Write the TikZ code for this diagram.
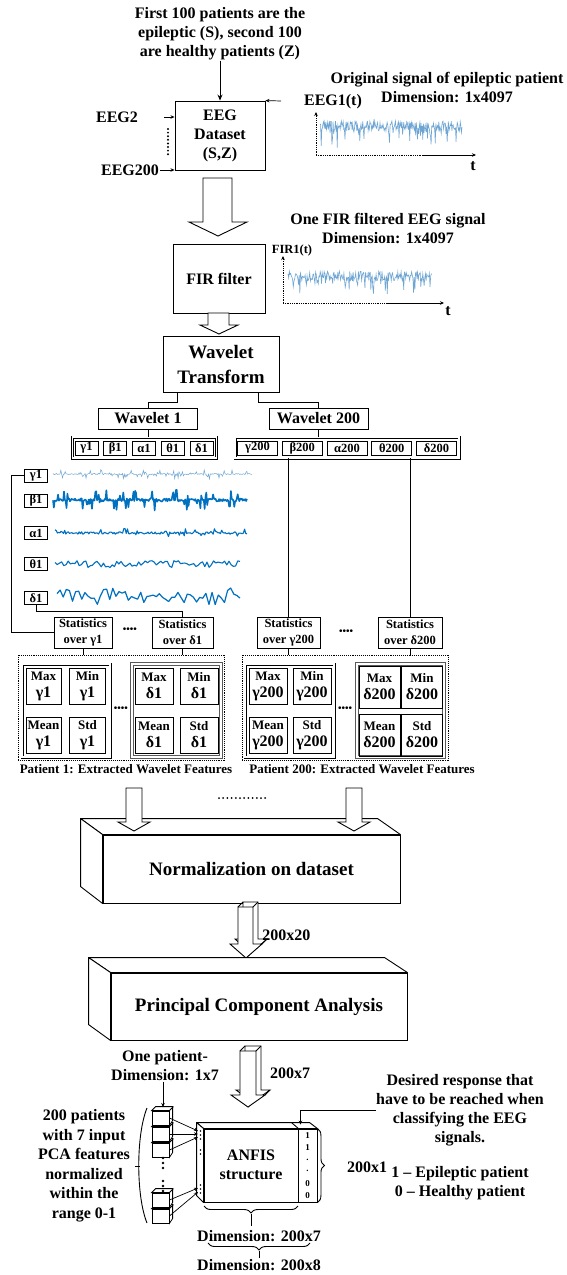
\documentclass[tikz,border=0pt]{standalone}
\usepackage{fontspec}
\setmainfont{Liberation Serif}
\usetikzlibrary{positioning,arrows.meta,decorations.pathreplacing}

\definecolor{sigblue}{RGB}{0,112,192}
\definecolor{siglight}{RGB}{110,165,210}

\newcommand{\ftxt}[2]{{\fontsize{13}{17}\selectfont #1}\\{\fontsize{16}{17}\selectfont #2}}

\begin{document}
\begin{tikzpicture}[x=1pt,y=-1pt,line width=0.9pt,
    txt/.style={font=\bfseries\fontsize{16}{19}\selectfont,align=center,inner sep=0pt},
    bigtxt/.style={font=\bfseries\fontsize{19}{25}\selectfont,align=center,inner sep=0pt},
    smalltxt/.style={font=\bfseries\fontsize{12.5}{16}\selectfont,align=center,inner sep=0pt},
    blk/.style={draw,fill=white,inner sep=0pt,align=center},
    band/.style={draw,line width=0.8pt,inner sep=0pt,font=\bfseries\fontsize{12.5}{14}\selectfont},
    dbl/.style={draw,double,double distance=1.6pt,line width=0.7pt,inner sep=0pt},
    dblgray/.style={dbl,draw=black!65,line width=1pt},
    feat/.style={draw,inner sep=0pt,align=center,font=\bfseries\fontsize{14}{17}\selectfont,minimum width=36,minimum height=36},
    dotbox/.style={draw,densely dotted,inner sep=0pt},
    arr/.style={-{Stealth[length=6pt,width=5pt]}},
    sarr/.style={-{Stealth[length=4pt,width=3.5pt]},line width=0.7pt},
    hollow/.style={draw,fill=white,line join=miter},
    face/.style={draw,fill=white,line join=round},
    sig/.style={line width=0.6pt,line join=round,color=sigblue},
  ]
\useasboundingbox (0,0) rectangle (567,1275);

% --- dataset
\node[txt] (intro) at (220,34) {First 100 patients are the\\epileptic (S), second 100\\are healthy patients (Z)};
\node[blk,txt,minimum width=90,minimum height=69] (eeg) at (220,135.5) {EEG\\Dataset\\(S,Z)};
\node[txt] (eeg2) at (117,117) {EEG2};
\node[txt] (eeg200) at (130,170) {EEG200};
\coordinate (e2) at (164,117);
\coordinate (e200) at (160,170);
\draw[arr] (intro.south) -- (eeg.north);
\draw[sarr] (e2) -- (eeg.west |- e2);
\draw[sarr] (e200) -- (eeg.west |- e200);
\draw[line width=2.2pt,dash pattern=on 0pt off 3.6pt,line cap=round] (168,129) -- (168,157);

% --- original signal
\node[txt] (origtxt) at (447,87.5) {Original signal of epileptic patient\\Dimension: 1x4097};
\node[txt] (eeg1t) at (333,102) {EEG1(t)};
\coordinate (src) at (281,101);
\draw[sarr] (src) -- (eeg.north east);
\coordinate (o1) at (316,155);
\draw[densely dotted,line width=0.8pt,-{Stealth[length=4pt,width=3.5pt]}] (o1) -- (316,112);
\draw[densely dotted,line width=0.8pt] (o1) -- (423,155);
\draw[sarr] (423,155) -- (476,155);
\node[txt] (t1) at (473,166) {t};
\pgfmathsetseed{11}
\draw[line width=0.6pt,color=siglight] plot[domain=320:462,samples=240] (\x,{126+5*rand+18*(rnd>0.8)*rnd});

% --- FIR filter
\draw[hollow] (203,178) -- (232,178) -- (232,222) -- (247,222) -- (218,236) -- (189,222) -- (203,222) -- cycle;
\node[blk,txt,minimum width=92,minimum height=69] (fir) at (219,278.5) {FIR filter};
\node[txt] (firtxt) at (388,228.5) {One FIR filtered EEG signal\\Dimension: 1x4097};
\node[smalltxt] (fir1t) at (292,250) {FIR1(t)};
\coordinate (o2) at (283,303);
\draw[densely dotted,line width=0.8pt,-{Stealth[length=4pt,width=3.5pt]}] (o2) -- (283,256);
\draw[densely dotted,line width=0.8pt] (o2) -- (388,303);
\draw[sarr] (388,303) -- (444,303);
\node[txt] (t2) at (448,311) {t};
\pgfmathsetseed{23}
\draw[line width=0.6pt,color=siglight] plot[domain=288:432,samples=220] (\x,{276+5*rand+16*(rnd>0.8)*rnd});

% --- wavelet transform
\draw[hollow] (208,313) -- (229,313) -- (229,325) -- (238,325) -- (219,334) -- (200,325) -- (208,325) -- cycle;
\node[blk,bigtxt,minimum width=116,minimum height=56] (wt) at (221,364) {Wavelet\\Transform};
\node[blk,txt,minimum width=99,minimum height=21] (w1) at (148,418.5) {Wavelet 1};
\node[blk,txt,minimum width=99,minimum height=21] (w200) at (318.5,418.5) {Wavelet 200};
\draw ([xshift=15pt]wt.south west) |- ([yshift=5pt]w1.north) -- (w1.north);
\draw ([xshift=-21pt]wt.south east) |- ([yshift=5pt]w200.north) -- (w200.north);

\node[dbl,minimum width=144,minimum height=21] (bd1) at (144.5,447.5) {};
\foreach \n/\s [count=\i from 0] in {g1/γ1,b1/β1,a1/α1,h1/θ1,d1/δ1}
  \node[band,minimum width=23,minimum height=14] (\n) at ({86.5+28.75*\i},448) {\s};
\node[dbl,minimum width=224,minimum height=21] (bd200) at (347,447.5) {};
\foreach \n/\s [count=\i from 0] in {g200/γ200,b200/β200,a200/α200,h200/θ200,d200/δ200}
  \node[band,minimum width=40,minimum height=14] (\n) at ({257.5+44.75*\i},448) {\s};
\draw (w1.south) -- (w1.south |- bd1.north);
\draw (w200.south) -- (w200.south |- bd200.north);

% --- sub-band signals of patient 1
\node[band,minimum width=23,minimum height=13] (lg) at (36,475.5) {γ1};
\node[band,minimum width=23,minimum height=13] (lb) at (36,500.5) {β1};
\node[band,minimum width=23,minimum height=13] (la) at (36,533) {α1};
\node[band,minimum width=23,minimum height=13] (lt) at (36,564) {θ1};
\node[band,minimum width=23,minimum height=13] (ld) at (36,598) {δ1};
\pgfmathsetseed{5}
\draw[line width=0.5pt,color=siglight] plot[domain=53:252,samples=230] (\x,{474+0.6*rand+4.5*(rnd>0.72)*rand});
\pgfmathsetseed{7}
\draw[sig,line width=1.6pt] plot[domain=53:247,samples=230] (\x,{500+rand*(1.5+9*(rnd>0.75))});
\pgfmathsetseed{9}
\draw[sig,line width=1.1pt] plot[domain=55:247,samples=160] (\x,{533+rand*(1.2+3.5*(rnd>0.8))});
\pgfmathsetseed{13}
\draw[sig,line width=1.1pt] plot[domain=55:240,samples=85] (\x,{564+3.5*rand});
\pgfmathsetseed{17}
\draw[sig,line width=1.2pt] plot[domain=57:240,samples=60] (\x,{597+2*sin(\x*9)+7*rand});

% --- statistics
\node[blk,smalltxt,minimum width=58,minimum height=31] (sg1) at (83,632.5) {Statistics\\over γ1};
\node[blk,smalltxt,minimum width=61,minimum height=31] (sd1) at (182.5,632.5) {Statistics\\over δ1};
\node[blk,smalltxt,minimum width=63,minimum height=31] (sg200) at (288.5,632.5) {Statistics\\over γ200};
\node[blk,smalltxt,minimum width=64,minimum height=31] (sd200) at (410,632.5) {Statistics\\over δ200};
\node[font=\bfseries\fontsize{10}{10}\selectfont] (sdots1) at (130,630) {••••};
\node[font=\bfseries\fontsize{10}{10}\selectfont] (sdots2) at (346,632) {••••};
\draw (lg.west) -- ++(-13,0) |- (sg1.west);
\draw (ld.south) |- ([yshift=5pt]sd1.north) -- (sd1.north);
\draw (sg200.north |- bd200.south) -- (sg200.north);
\draw (sd200.north |- bd200.south) -- (sd200.north);

% --- extracted features
\node[dotbox,minimum width=206,minimum height=105] (p1) at (121,707.5) {};
\node[dotbox,minimum width=206,minimum height=105] (p200) at (345,707.5) {};
\draw (sg1.south) -- (sg1.south |- p1.north);
\draw (sd1.south) -- (sd1.south |- p1.north);
\draw (sg200.south) -- (sg200.south |- p200.north);
\draw (sd200.south) -- (sd200.south |- p200.north);

\node[dbl,minimum width=88,minimum height=93] (gg1) at (66,710.5) {};
\node[dblgray,minimum width=89,minimum height=93] (gd1) at (176.5,710.5) {};
\node[dbl,minimum width=89,minimum height=93] (gg200) at (289.5,710.5) {};
\node[dblgray,minimum width=87,minimum height=93] (gd200) at (400.5,710.5) {};

\node[feat,minimum width=35] (mxg1) at (43.5,686) {\ftxt{Max}{γ1}};
\node[feat] (mng1) at (87.5,686) {\ftxt{Min}{γ1}};
\node[feat,minimum width=35] (mag1) at (43.5,735) {\ftxt{Mean}{γ1}};
\node[feat] (sdg1) at (87.5,735) {\ftxt{Std}{γ1}};
\node[feat,minimum width=38] (mxd1) at (154,686) {\ftxt{Max}{δ1}};
\node[feat,minimum width=38] (mnd1) at (199,686) {\ftxt{Min}{δ1}};
\node[feat,minimum width=38] (mad1) at (154,735) {\ftxt{Mean}{δ1}};
\node[feat,minimum width=38] (sdd1) at (199,735) {\ftxt{Std}{δ1}};
\node[feat,minimum width=38] (mxg2) at (268,686) {\ftxt{Max}{γ200}};
\node[feat,minimum width=38] (mng2) at (312,686) {\ftxt{Min}{γ200}};
\node[feat,minimum width=38] (mag2) at (268,735) {\ftxt{Mean}{γ200}};
\node[feat,minimum width=38] (sdg2) at (312,735) {\ftxt{Std}{γ200}};
\node[feat,minimum width=41,minimum height=42] (mxd2) at (379.5,687) {\ftxt{Max}{δ200}};
\node[feat,minimum width=41,minimum height=42] (mnd2) at (422,687) {\ftxt{Min}{δ200}};
\node[feat,minimum width=41,minimum height=42] (mad2) at (379.5,735) {\ftxt{Mean}{δ200}};
\node[feat,minimum width=41,minimum height=42] (sdd2) at (422,735) {\ftxt{Std}{δ200}};
\node[font=\bfseries\fontsize{10}{10}\selectfont] (fdots1) at (121,709) {••••};
\node[font=\bfseries\fontsize{10}{10}\selectfont] (fdots2) at (345,709) {••••};
\node[smalltxt,font=\bfseries\fontsize{13}{15}\selectfont] (cap1) at (126,769) {Patient 1: Extracted Wavelet Features};
\node[smalltxt,font=\bfseries\fontsize{13}{15}\selectfont] (cap200) at (362,769) {Patient 200: Extracted Wavelet Features};

% --- normalization
\node[blk,bigtxt,minimum width=297,minimum height=68] (norm) at (251.5,869) {Normalization on dataset};
\draw[face] (norm.north west) -- ++(-22,-16) -- ++(297,0) -- (norm.north east) -- cycle;
\draw[face] (norm.north west) -- ++(-22,-16) -- ++(0,68) -- (norm.south west) -- cycle;
\draw[hollow] (126,788) -- (142,788) -- (142,822) -- (150,822) -- (134,831) -- (118,822) -- (126,822) -- cycle;
\draw[hollow] (346,788) -- (362,788) -- (362,822) -- (370,822) -- (354,831) -- (338,822) -- (346,822) -- cycle;
\draw[line width=2pt,dash pattern=on 0pt off 4.2pt,line cap=round] (219,798) -- (269,798);

% --- 200x20
\draw[hollow,shift={(5,-5)}] (238,907) -- (253,907) -- (253,944) -- (262,944) -- (246,958) -- (230,944) -- (238,944) -- cycle;
\draw (238,907) -- (243,902) (253,907) -- (258,902) (262,944) -- (267,939) (246,958) -- (251,953);
\draw[hollow] (238,907) -- (253,907) -- (253,944) -- (262,944) -- (246,958) -- (230,944) -- (238,944) -- cycle;
\node[txt,anchor=west] (d20) at (262,935) {200x20};

% --- PCA
\node[blk,bigtxt,minimum width=296,minimum height=67] (pca) at (259,1006.5) {Principal Component Analysis};
\draw[face] (pca.north west) -- ++(-22,-15) -- ++(296,0) -- (pca.north east) -- cycle;
\draw[face] (pca.north west) -- ++(-22,-15) -- ++(0,67) -- (pca.south west) -- cycle;

% --- 200x7
\draw[hollow,shift={(5,-5)}] (240,1051) -- (256,1051) -- (256,1095) -- (265,1095) -- (248,1107) -- (231,1095) -- (240,1095) -- cycle;
\draw (240,1051) -- (245,1046) (256,1051) -- (261,1046) (265,1095) -- (270,1090) (248,1107) -- (253,1102);
\draw[hollow] (240,1051) -- (256,1051) -- (256,1095) -- (265,1095) -- (248,1107) -- (231,1095) -- (240,1095) -- cycle;
\node[txt] (d7) at (290,1073) {200x7};

% --- ANFIS
\node[txt] (onep) at (165,1066) {One patient-\\Dimension: 1x7};
\node[txt,font=\bfseries\fontsize{16}{19.5}\selectfont] (pats) at (84,1165.5) {200 patients\\with 7 input\\PCA features\\normalized\\within the\\range 0-1};
\draw (147,1108) .. controls (136,1135) and (136,1196) .. (147,1223);
\draw (135,1166) -- (140,1166);

\foreach \y/\i in {1216/5,1200/4,1150/3,1134/2,1118/1} {
  \node[draw,fill=white,minimum width=17,minimum height=14,inner sep=0pt,line width=0.8pt] (cb\i) at (160.5,\y) {};
  \filldraw[fill=white,line width=0.8pt] (cb\i.north west) -- ++(4,-4) -- ++(17,0) -- ++(0,14) -- (cb\i.south east) -- (cb\i.north east) -- cycle;
  \draw[line width=0.8pt] (cb\i.north east) -- ++(4,-4);
}
\foreach \y in {1158,1163,1168,1181,1186,1191}
  \fill (163,\y) circle (1.3);

\node[draw,minimum width=113,minimum height=73,inner sep=0pt] (anfis) at (260.5,1165.5) {};
\draw[face] (anfis.north west) -- ++(-7,-6) -- ++(113,0) -- (anfis.north east) -- cycle;
\draw[face] (anfis.north west) -- ++(-7,-6) -- ++(0,73) -- (anfis.south west) -- cycle;
\draw ([xshift=-19pt]anfis.north east) -- ([xshift=-19pt]anfis.south east);
\draw ([xshift=-19pt]anfis.north east) -- ++(-7,-6);
\node[txt] (anfistxt) at (251,1165) {ANFIS\\structure};
\foreach \y/\d in {1136/1,1148/1,1160/.,1171/.,1184/0,1196/0}
  \node[font=\bfseries\fontsize{9}{9}\selectfont] at (307.5,\y) {\d};
\foreach \y in {1131,1135,1139,1150,1154,1185,1189,1193}
  \fill (200.5,\y) circle (0.9);

\draw[sarr] (cb1.east) -- (198,1131);
\draw[sarr] (cb2.east) -- (198,1134);
\draw[sarr] (cb3.east) -- (198,1137);
\draw[sarr] (cb4.east) -- (198,1188);
\draw[sarr] (cb5.east) -- (198,1192);
\coordinate (cbtop) at (163,1107);
\draw[sarr] (onep.south -| cbtop) -- (cbtop);

\draw[decorate,decoration={brace,amplitude=7pt}] (anfis.north east) -- (anfis.south east);
\draw[decorate,decoration={brace,amplitude=7pt}] (298,1206) -- (204,1206);
\draw (251,1214) -- (251,1226);
\node[txt] (dim7) at (259,1236) {Dimension: 200x7};
\draw[decorate,decoration={brace,amplitude=7pt}] (310,1243) -- (208,1243);
\draw (259,1251) -- (259,1258);
\node[txt] (dim8) at (259,1265) {Dimension: 200x8};

\node[txt] (desired) at (460,1110) {Desired response that\\have to be reached when\\classifying the EEG\\signals.};
\draw[sarr] (desired.west) -| ([xshift=-17pt,yshift=4pt]anfis.north east);
\node[txt] (d1) at (367,1167) {200x1};
\node[txt] (classes) at (460,1183) {1 – Epileptic patient\\0 – Healthy patient};
\end{tikzpicture}
\end{document}
